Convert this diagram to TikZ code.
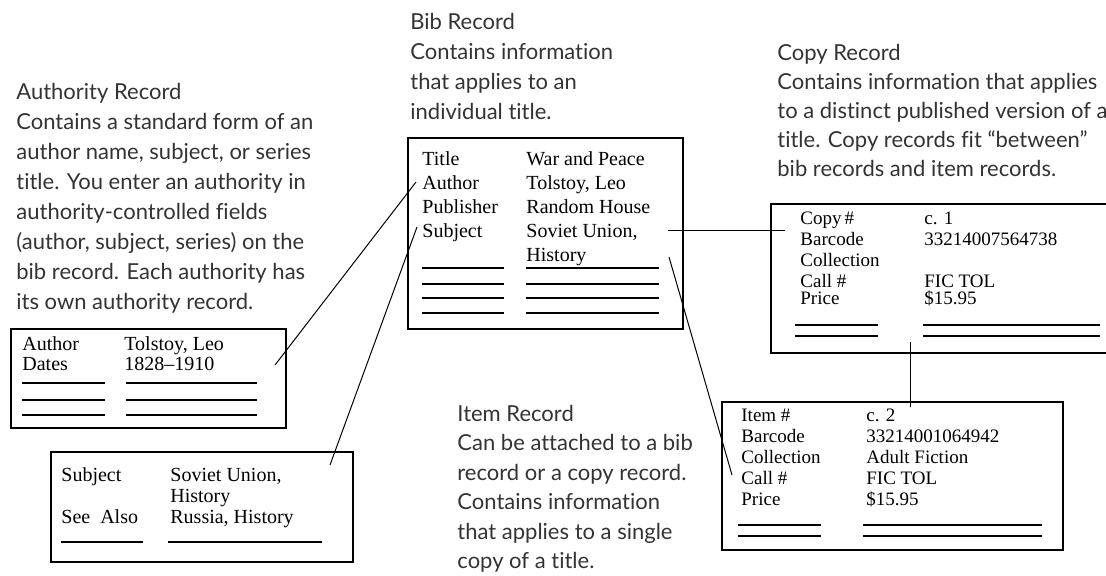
\documentclass[tikz,border=0pt]{standalone}
\usepackage{fontspec}
\setmainfont{Liberation Serif}
\newfontfamily\descfont{Lato}[Ligatures=NoCommon]
\usetikzlibrary{positioning}
\definecolor{desctext}{HTML}{333333}
% fixed first-line heights, so a node's top sits a known distance above its first baseline
\newcommand\recline{\rule{0pt}{8pt}}
\newcommand\noteline{\rule{0pt}{9pt}}

\begin{document}
\begin{tikzpicture}[x=0.5pt, y=-0.5pt,
  % grey notes in a sans face, the records themselves in a serif
  desc/.style={anchor=north west, inner sep=0pt, align=left, text=desctext,
               font=\descfont\fontsize{11}{15}\selectfont},
  rec/.style={draw, line width=0.75pt, inner sep=0pt, anchor=north west},
  fld/.style={anchor=north west, inner sep=0pt, align=left,
              font=\fontsize{10}{10.5}\selectfont},
  blank/.style={line width=0.7pt},
  link/.style={line width=0.5pt}
]
\useasboundingbox (0,0) rectangle (1106,575);

% descriptions
\node[desc] (authtxt) at (16, 81) {\noteline Authority Record\\Contains a standard form of an\\author name, subject, or series\\title. You enter an authority in\\authority-controlled fields\\(author, subject, series) on the\\bib record. Each authority has\\its own authority record.};
\node[desc] (bibtxt) at (410, 11) {\noteline Bib Record\\Contains information\\that applies to an\\individual title.};
\node[desc, font=\descfont\fontsize{11}{14.5}\selectfont] (copytxt) at (777, 42) {\noteline Copy Record\\Contains information that applies\\to a distinct published version of a\\title. Copy records fit “between”\\bib records and item records.};
\node[desc, font=\descfont\fontsize{11}{14.7}\selectfont] (itemtxt) at (457, 403) {\noteline Item Record\\Can be attached to a bib\\record or a copy record.\\Contains information\\that applies to a single\\copy of a title.};

% record boxes
\node[rec, minimum width=137.5pt, minimum height=49.5pt] (auth) at (10, 328) {};
\node[rec, minimum width=151pt,   minimum height=55pt]   (subj) at (50, 451) {};
\node[rec, minimum width=137.5pt, minimum height=95.5pt] (bib)  at (407, 137) {};
\node[rec, minimum width=170pt,   minimum height=74.5pt] (copy) at (770, 203) {};
\node[rec, minimum width=170.5pt, minimum height=74pt]   (item) at (721, 401) {};

% authority record
\node[fld, font=\fontsize{10}{10}\selectfont] (authlab) at (22, 334) {\recline Author\\Dates};
\node[fld, font=\fontsize{10}{10}\selectfont] (authval) at (124, 334) {\recline Tolstoy, Leo\\1828–1910};
\foreach \y in {383, 400, 415} {
  \draw[blank] (22,\y) -- (105,\y);
  \draw[blank] (126,\y) -- (257,\y);
}

% subject authority
\node[fld] (subjlab) at (61, 465) {\recline Subject\\[10.5pt]See\ \ Also};
\node[fld] (subjval) at (170, 465) {\recline Soviet Union,\\History\\Russia, History};
\draw[blank] (61,542) -- (143,542);
\draw[blank] (168,542) -- (322,542);

% bib record
\node[fld, font=\fontsize{10}{12}\selectfont] (biblab) at (422, 149) {\recline Title\\Author\\Publisher\\Subject};
\node[fld, font=\fontsize{10}{12}\selectfont] (bibval) at (526, 149) {\recline War and Peace\\Tolstoy, Leo\\Random House\\Soviet Union,\\History};
\foreach \y in {268, 284, 298, 313} {
  \draw[blank] (422,\y) -- (504,\y);
  \draw[blank] (526,\y) -- (659,\y);
}

% copy record
\node[fld, font=\fontsize{9.5}{10.5}\selectfont] (copylab) at (800, 208) {\recline Copy\,\#\\Barcode\\Collection\\Call \#\\[-2pt]Price};
\node[fld, font=\fontsize{9.5}{10.5}\selectfont] (copyval) at (924, 208) {\recline c. 1\\33214007564738\\[10.5pt]FIC TOL\\[-2pt]\$15.95};
\foreach \y in {325, 336} {
  \draw[blank] (795,\y) -- (878,\y);
  \draw[blank] (923,\y) -- (1100,\y);
}

% item record
\node[fld, font=\fontsize{9.5}{10.5}\selectfont] (itemlab) at (741, 405) {\recline Item \#\\Barcode\\Collection\\Call \#\\Price};
\node[fld, font=\fontsize{9.5}{10.5}\selectfont] (itemval) at (866, 405) {\recline c. 2\\33214001064942\\Adult Fiction\\FIC TOL\\\$15.95};
\foreach \y in {525, 536} {
  \draw[blank] (738,\y) -- (821,\y);
  \draw[blank] (863,\y) -- (1042,\y);
}

% links between records
\coordinate (a2b) at (275, 365);  \coordinate (b2a) at (416, 182);
\coordinate (s2b) at (330, 465);  \coordinate (b2s) at (417, 227);
\coordinate (b2c) at (668, 230);  \coordinate (c2b) at (785, 230);
\coordinate (b2i) at (669, 257);  \coordinate (i2b) at (732, 475);
\coordinate (c2i) at (910, 342);  \coordinate (i2c) at (910, 407);

\draw[link] (a2b) -- (b2a);
\draw[link] (s2b) -- (b2s);
\draw[link] (b2c) -- (c2b);
\draw[link] (b2i) -- (i2b);
\draw[link] (c2i) -- (i2c);

\end{tikzpicture}
\end{document}
